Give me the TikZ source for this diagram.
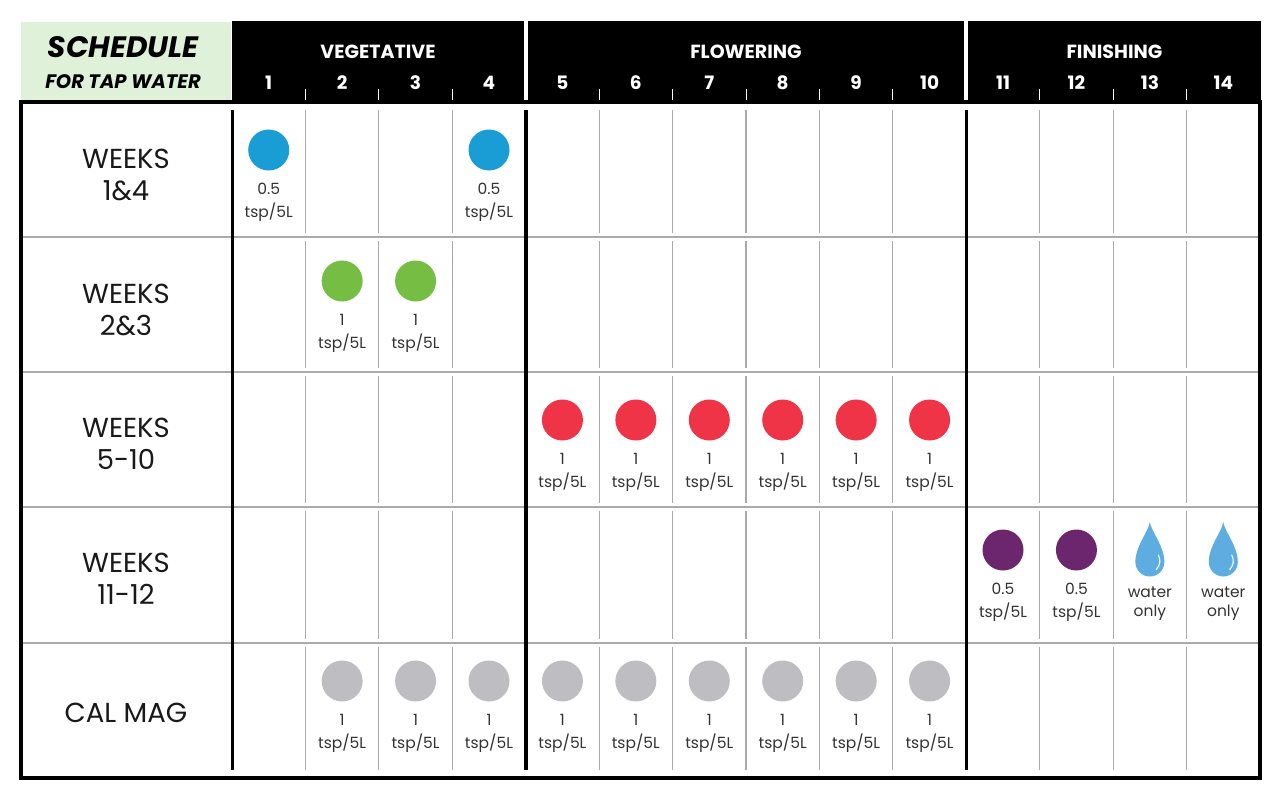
\documentclass[tikz,border=0pt]{standalone}
\usepackage{fontspec}
\setmainfont{Poppins}
\definecolor{hdrgreen}{RGB}{223,241,217}
\definecolor{gridgray}{RGB}{170,170,170}
\definecolor{cblue}{RGB}{26,156,212}
\definecolor{cgreen}{RGB}{118,190,67}
\definecolor{cred}{RGB}{238,52,70}
\definecolor{cpurple}{RGB}{107,38,110}
\definecolor{cgray}{RGB}{190,190,194}
\definecolor{cdrop}{RGB}{93,173,224}
\newcommand\fsz[1]{\fontsize{#1}{#1}\selectfont}
\tikzset{
  phase/.style={text=white,font=\bfseries\fsz{19}},
  wnum/.style={text=white,font=\bfseries\fsz{18.5}},
  rowlab/.style={align=center,font=\fsz{27.5},inner sep=0pt,text=black!90},
  dose/.style={align=center,font=\fsz{15.5},inner sep=0pt,text=black!80},
  thin/.style={draw=gridgray,line width=1.2pt},
  thick/.style={draw=black,line width=3.5pt},
  dot/.style={circle,minimum size=41pt,inner sep=0pt},
}
\begin{document}
\begin{tikzpicture}[x=1pt,y=-1pt]
\useasboundingbox (0,0) rectangle (1280,800);
\fill[white] (0,0) rectangle (1280,800);
% header
\fill[hdrgreen] (21,22) rectangle (231,100);
\fill[black] (232,21) rectangle (524,103);
\fill[black] (528,21) rectangle (964,103);
\fill[black] (968,21) rectangle (1261,103);
\node[font=\bfseries\itshape\fsz{29.5}] (sched) at (123,47) {SCHEDULE};
\node[font=\bfseries\itshape\fsz{19.5}] (tap) at (123,82) {FOR TAP WATER};
\node[phase] (veg) at (378,52) {VEGETATIVE};
\node[phase] (flo) at (746,52) {FLOWERING};
\node[phase] (fin) at (1114.5,52) {FINISHING};
\foreach \k in {1,...,14}{
  \pgfmathsetmacro\xx{232+73.4286*(\k-0.5)}
  \node[wnum] (w\k) at (\xx,83) {\k};
}
\foreach \k in {1,2,3,5,6,7,8,9,11,12,13}{
  \pgfmathsetmacro\xx{232+73.4286*\k}
  \draw[white,line width=1pt] (\xx,89) -- (\xx,103);
}
% grid
\foreach \yy in {237,372,507,643}{
  \draw[thin] (21,\yy) -- (1260,\yy);
}
\foreach \k in {1,2,3,5,6,7,8,9,11,12,13}{
  \pgfmathsetmacro\xx{232+73.4286*\k}
  \foreach \ya/\yb in {110/233,241/368,376/503,511/639,647/770}{
    \draw[thin] (\xx,\ya) -- (\xx,\yb);
  }
}
\foreach \k in {0,4,10}{
  \pgfmathsetmacro\xx{232.3+73.4286*\k}
  \draw[thick] (\xx,110) -- (\xx,770);
}
\draw[thick] (21,102) rectangle (1260,778);
% row labels
\node[rowlab] (r1) at (126,175) {WEEKS\\[4pt]1\&4};
\node[rowlab] (r2) at (126,310) {WEEKS\\[4pt]2\&3};
\node[rowlab] (r3) at (126,444) {WEEKS\\[4pt]5-10};
\node[rowlab] (r4) at (126,579) {WEEKS\\[4pt]11-12};
\node[rowlab] (r5) at (126,713) {CAL MAG};
% doses
\foreach \r/\k/\yy/\col/\amt in {
  a/1/150/cblue/0.5, a/4/150/cblue/0.5,
  b/2/281/cgreen/1, b/3/281/cgreen/1,
  c/5/420/cred/1, c/6/420/cred/1, c/7/420/cred/1, c/8/420/cred/1, c/9/420/cred/1, c/10/420/cred/1,
  d/11/550/cpurple/0.5, d/12/550/cpurple/0.5,
  e/2/681/cgray/1, e/3/681/cgray/1, e/4/681/cgray/1, e/5/681/cgray/1, e/6/681/cgray/1,
  e/7/681/cgray/1, e/8/681/cgray/1, e/9/681/cgray/1, e/10/681/cgray/1}{
  \pgfmathsetmacro\xx{232+73.4286*(\k-0.5)}
  \node[dot,fill=\col] (c\r\k) at (\xx,\yy) {};
  \node[dose] (t\r\k) at (\xx,\yy+39) {\amt};
  \node[dose] (u\r\k) at (\xx,\yy+62) {tsp/5L};
}
% water drops
\foreach \k in {13,14}{
  \pgfmathsetmacro\xx{232+73.4286*(\k-0.5)}
  \begin{scope}[shift={(\xx,562)}]
    \fill[cdrop] (0,-40) .. controls (1,-31) and (14.5,-16) .. (14.5,0)
      arc[start angle=0,end angle=180,radius=14.5]
      .. controls (-14.5,-16) and (-1,-31) .. (0,-40) -- cycle;
    \draw[white,line width=1.1pt,line cap=round] (8.5,-7) .. controls (11,-2) and (10.5,3) .. (6.5,7.5);
  \end{scope}
  \node[dose] (tw\k) at (\xx,592) {water};
  \node[dose] (uw\k) at (\xx,613) {only};
}
\end{tikzpicture}
\end{document}
